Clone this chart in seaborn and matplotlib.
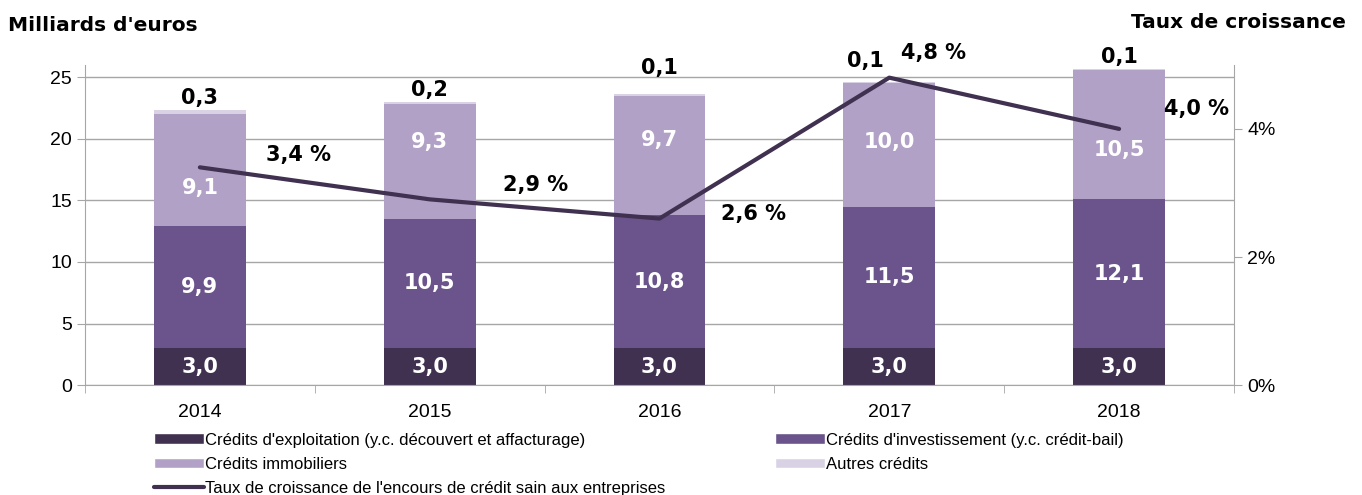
import numpy as np
import pandas as pd
import matplotlib
matplotlib.use('Agg')
import matplotlib.pyplot as plt
from matplotlib.patches import Patch
from matplotlib.lines import Line2D
from matplotlib.ticker import FixedLocator, PercentFormatter
import seaborn as sns

# ============================================================
# Data
# ============================================================
years = ['2014', '2015', '2016', '2017', '2018']
exploitation = [3.0, 3.0, 3.0, 3.0, 3.0]
investissement = [9.9, 10.5, 10.8, 11.5, 12.1]
immobiliers = [9.1, 9.3, 9.7, 10.0, 10.5]
autres = [0.3, 0.2, 0.1, 0.1, 0.1]
croissance = [3.4, 2.9, 2.6, 4.8, 4.0]

series_names = [
    "Crédits d'exploitation (y.c. découvert et affacturage)",
    "Crédits d'investissement (y.c. crédit-bail)",
    'Crédits immobiliers',
    'Autres crédits',
]
line_name = "Taux de croissance de l'encours de crédit sain aux entreprises"
colors = ['#403151', '#6b548b', '#b2a1c7', '#d9d1e4']
line_color = '#403151'
grid_color = '#a6a6a6'

# label nudges (points), as placed by hand in the original chart
growth_offsets = [(71, 9), (76, 10), (68, 3), (32, 18), (56, 14)]
immo_offsets = [-13, 14, 11, 2, -11]
autres_offsets = [(0, 2), (0, 1), (0, 12), (-17, 8), (0, 1)]

# ============================================================
# Figure
# ============================================================
sns.set_style('white')
plt.rcParams['font.family'] = ['DejaVu Sans']
plt.rcParams['text.color'] = 'black'
plt.rcParams['xtick.color'] = 'black'
plt.rcParams['ytick.color'] = 'black'

fig = plt.figure(figsize=(13.62, 4.95), dpi=100)
ax = fig.add_axes([0.0624, 0.222, 0.8436, 0.647])

layers = [exploitation, investissement, immobiliers, autres]
cum = np.cumsum(np.array(layers), axis=0)
df = pd.DataFrame({'year': years})
for i in range(len(layers)):
    df[f'cum{i}'] = cum[i]

# draw cumulative totals from the top layer down so they stack
for i in reversed(range(len(layers))):
    sns.barplot(data=df, x='year', y=f'cum{i}', color=colors[i], width=0.4,
                saturation=1, linewidth=0, ax=ax, zorder=2)

ax.set_ylim(0, 26)
ax.set_xlim(-0.5, 4.5)
ax.yaxis.set_major_locator(FixedLocator([0, 5, 10, 15, 20, 25]))
ax.yaxis.grid(True, color=grid_color, lw=1)
ax.set_axisbelow(True)
ax.set_xlabel('')
ax.set_ylabel('')
for s in ['top', 'right']:
    ax.spines[s].set_visible(False)
for s in ['left', 'bottom']:
    ax.spines[s].set_color(grid_color)
ax.tick_params(axis='y', left=True, length=6, color=grid_color, labelsize=14)
ax.tick_params(axis='x', bottom=False, labelsize=14, pad=10)
ax.set_xticks(np.arange(-0.5, 5, 1), minor=True)
ax.tick_params(axis='x', which='minor', bottom=True, length=6, color=grid_color)
for lab in ax.get_xticklabels() + ax.get_yticklabels():
    lab.set_fontfamily('Liberation Sans')

# value labels in the segments
for i, vals in enumerate(layers):
    for j, v in enumerate(vals):
        txt = f'{v:.1f}'.replace('.', ',')
        if i == 3:
            ax.annotate(txt, (j, cum[i][j]), xytext=autres_offsets[j],
                        textcoords='offset points', ha='center', va='bottom',
                        fontsize=15, fontweight='bold', color='black')
        else:
            dy = immo_offsets[j] if i == 2 else 0
            ax.annotate(txt, (j, cum[i][j] - vals[j] / 2), xytext=(0, dy),
                        textcoords='offset points', ha='center', va='center',
                        fontsize=15, fontweight='bold', color='white', zorder=4)

# growth rate line on the secondary axis
ax2 = ax.twinx()
sns.lineplot(x=np.arange(len(years)), y=croissance, color=line_color, lw=3,
             ax=ax2, zorder=3)
ax2.set_ylim(0, 5)
ax2.yaxis.set_major_locator(FixedLocator([0, 2, 4]))
ax2.yaxis.set_major_formatter(PercentFormatter(decimals=0))
for s in ['top', 'left', 'bottom']:
    ax2.spines[s].set_visible(False)
ax2.spines['right'].set_color(grid_color)
ax2.tick_params(axis='y', right=True, length=6, color=grid_color, labelsize=14)
for lab in ax2.get_yticklabels():
    lab.set_fontfamily('Liberation Sans')

for j, g in enumerate(croissance):
    ax2.annotate(f'{g:.1f} %'.replace('.', ','), (j, g), xytext=growth_offsets[j],
                 textcoords='offset points', ha='center', va='center',
                 fontsize=15, fontweight='bold', color='black')

# axis titles
fig.text(0.006, 0.948, "Milliards d'euros", ha='left', va='center',
         fontsize=14.5, fontweight='bold')
fig.text(0.988, 0.955, 'Taux de croissance', ha='right', va='center',
         fontsize=14.5, fontweight='bold')

# legend
handles = [Patch(facecolor=colors[0]), Patch(facecolor=colors[2]),
           Line2D([0], [0], color=line_color, lw=3),
           Patch(facecolor=colors[1]), Patch(facecolor=colors[3])]
labels = [series_names[0], series_names[2], line_name, series_names[1], series_names[3]]
fig.legend(handles, labels, ncol=2, loc='upper left', bbox_to_anchor=(0.107, 0.143),
           frameon=False, prop={'family': 'Liberation Sans', 'size': 12},
           handlelength=3.0, handleheight=0.6, handletextpad=0.05,
           labelspacing=0.55, columnspacing=6.6, borderpad=0)

fig.savefig('out.png', dpi=100)
